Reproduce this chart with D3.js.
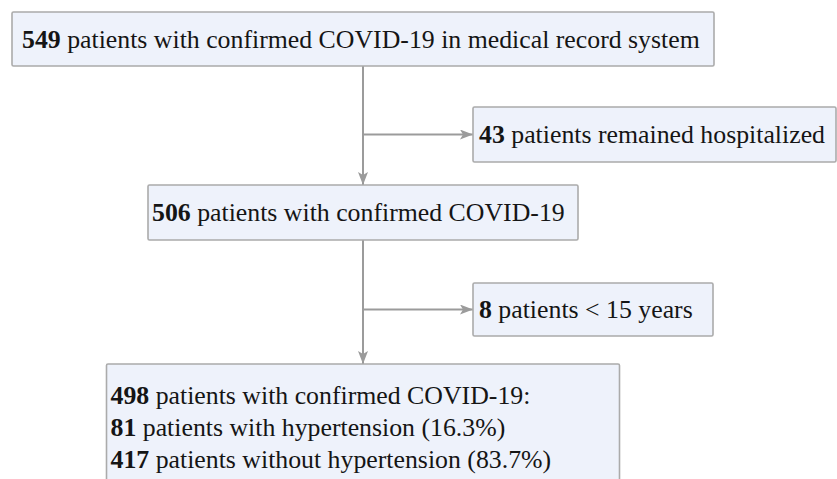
<!DOCTYPE html>
<html>
<head>
<meta charset="utf-8">
<script src="https://cdn.jsdelivr.net/npm/d3@7"></script>
<style>
  body { margin: 0; background: #fff; }
  text { font-family: "Liberation Serif", "Times New Roman", serif; fill: #151515; }
</style>
</head>
<body>
<div id="chart"></div>
<script>
// flow steps (main column)
const mainCounts = [549, 506, 498]
const mainLabels = [
    " patients with confirmed COVID-19 in medical record system",
    " patients with confirmed COVID-19",
    " patients with confirmed COVID-19:"
]
// excluded patients (side boxes)
const exclCounts = [43, 8]
const exclLabels = [" patients remained hospitalized", " patients < 15 years"]
// breakdown of the final cohort
const subCounts = [81, 417]
const subLabels = [" patients with hypertension (16.3%)", " patients without hypertension (83.7%)"]

//container with dimensions
let width = 837,
    height = 479,
    fontSize = 25.8,
    lineGap = 32

let svg = d3.select("#chart")
    .append("svg")
    .attr("width", width)
    .attr("height", height)

//layout: box tops / heights / widths / text padding
const mainX = 363
const mainTop = [12, 185, 364]
const mainH = [54, 55, 130]
const mainW = [702, 430, 513]
const mainPad = [10, 4, 4]
const exclX = 473
const exclTop = [107, 283]
const exclH = [55, 53]
const exclW = [363, 240]

const lineColor = "#9b9b9b"

// arrow head
svg.append("defs").append("marker")
    .attr("id", "arrow")
    .attr("markerUnits", "userSpaceOnUse")
    .attr("viewBox", "0 0 13 10")
    .attr("refX", 13)
    .attr("refY", 5)
    .attr("markerWidth", 13)
    .attr("markerHeight", 10)
    .attr("orient", "auto")
    .append("path")
    .attr("d", "M0,0 L13,5 L0,10 L3,5 Z")
    .style("fill", lineColor)

//connectors
for (let i = 0; i < 2; i++) {
    let y0 = mainTop[i] + mainH[i]
    let y1 = mainTop[i + 1]
    let yb = exclTop[i] + exclH[i] / 2
    svg.append("line")
        .style("stroke", lineColor)
        .style("stroke-width", 2)
        .attr("x1", mainX).attr("x2", mainX)
        .attr("y1", y0).attr("y2", y1)
        .attr("marker-end", "url(#arrow)")
    svg.append("line")
        .style("stroke", lineColor)
        .style("stroke-width", 2)
        .attr("x1", mainX).attr("x2", exclX)
        .attr("y1", yb).attr("y2", yb)
        .attr("marker-end", "url(#arrow)")
}

function box(x, y, w, h) {
    svg.append("rect")
        .attr("x", x).attr("y", y)
        .attr("width", w).attr("height", h)
        .attr("rx", 1.5)
        .style("fill", "#eef2fb")
        .style("stroke", "#ababab")
        .style("stroke-width", 1.6)
}

function label(x, y, num, txt) {
    let t = svg.append("text")
        .attr("x", x).attr("y", y)
        .style("font-size", fontSize + "px")
    t.append("tspan").style("font-weight", "bold").text(num)
    t.append("tspan").text(txt)
    return t
}

//main boxes 1 and 2
for (let i = 0; i < 2; i++) {
    let x = mainX - mainW[i] / 2
    box(x, mainTop[i], mainW[i], mainH[i])
    label(x + mainPad[i], mainTop[i] + mainH[i] / 2 + 8.5, mainCounts[i], mainLabels[i])
}

//final box with breakdown
let x5 = mainX - mainW[2] / 2
box(x5, mainTop[2], mainW[2], mainH[2])
let lines = [[mainCounts[2], mainLabels[2]]].concat(subCounts.map((c, i) => [c, subLabels[i]]))
lines.forEach((l, i) => {
    label(x5 + mainPad[2], mainTop[2] + 40 + i * lineGap, l[0], l[1])
})

//exclusion boxes
exclCounts.forEach((c, i) => {
    box(exclX, exclTop[i], exclW[i], exclH[i])
    label(exclX + 6, exclTop[i] + exclH[i] / 2 + 8.5, c, exclLabels[i])
})
</script>
</body>
</html>
